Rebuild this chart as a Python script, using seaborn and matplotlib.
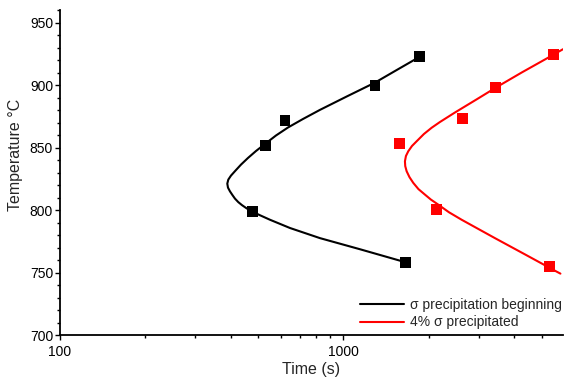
import numpy as np
import pandas as pd
import matplotlib
matplotlib.use("Agg")
import matplotlib.pyplot as plt
from matplotlib.ticker import FixedLocator, NullFormatter
import seaborn as sns

# ---- data ----
black_pts_time = [1861, 1292, 622, 529, 477, 1658]
black_pts_temp = [922.7, 899.7, 871.6, 851.6, 798.6, 758.0]
red_pts_time = [5495, 3431, 2624, 1573, 2137, 5350]
red_pts_temp = [924.6, 898.3, 873.5, 853.2, 800.2, 754.8]

# fitted C-curves
black_curve_time = [1861.5, 1544.2, 1291.5, 1028.8, 826.2, 719.7, 637.2, 578.0, 528.6,
                    491.4, 460.3, 435.0, 415.9, 401.0, 392.4, 389.2, 391.4, 397.8,
                    406.0, 414.3, 425.6, 438.5, 454.9, 474.5, 507.6, 550.5, 647.6,
                    826.2, 1143.8, 1661.2]
black_curve_temp = [922.7, 912.1, 901.9, 890.9, 880.1, 872.8, 866.0, 859.6, 852.8,
                    847.2, 841.6, 836.3, 831.5, 827.5, 824.3, 821.1, 817.9, 814.9,
                    811.9, 809.1, 806.3, 803.9, 801.4, 799.0, 795.8, 792.2, 785.6,
                    777.5, 768.6, 758.1]
red_curve_time = [5946, 5277.7, 4262, 3470.5, 2950, 2473.5, 2190, 2047, 1922.5, 1812.5,
                  1744.6, 1693, 1661.2, 1647.8, 1651.8, 1670.7, 1709.5, 1763.1, 1839.1,
                  1938.8, 2035.5, 2160, 2356, 2612, 2981.6, 3423, 4368, 5649.7, 5827]
red_curve_temp = [928.6, 921.9, 910.1, 898.3, 888.5, 878.0, 870.4, 865.8, 860.8, 855.0,
                  851.2, 847.0, 843.2, 839.0, 835.1, 831.0, 826.3, 821.7, 816.7,
                  812.3, 808.3, 804.3, 798.2, 792.2, 785.0, 777.5, 764.5, 750.7, 749.1]

label_black = "\u03c3 precipitation beginning"
label_red = "4% \u03c3 precipitated"

x_major = [100, 1000]
x_major_labels = ["100", "1000"]
x_minor = [200, 300, 400, 500, 600, 700, 800, 900, 2000, 3000, 4000, 5000]
y_major = [700, 750, 800, 850, 900, 950]

curves = pd.DataFrame({
    "time": black_curve_time + red_curve_time,
    "temp": black_curve_temp + red_curve_temp,
    "series": [label_black] * len(black_curve_time) + [label_red] * len(red_curve_time),
})
points = pd.DataFrame({
    "time": black_pts_time + red_pts_time,
    "temp": black_pts_temp + red_pts_temp,
    "series": [label_black] * len(black_pts_time) + [label_red] * len(red_pts_time),
})
palette = {label_black: "#000000", label_red: "#ff0000"}

sns.set_style("ticks")
plt.rcParams["font.family"] = ["Liberation Sans", "DejaVu Sans"]

fig = plt.figure(figsize=(5.64, 3.80), dpi=100)
ax = fig.add_axes([60 / 564, 45 / 380, 503 / 564, 325 / 380])
ax.set_xscale("log")

sns.lineplot(data=curves, x="time", y="temp", hue="series", palette=palette,
             sort=False, estimator=None, linewidth=1.5, ax=ax, legend=True)
for line in ax.get_lines():
    line.set_solid_joinstyle("round")
    line.set_solid_capstyle("round")
sns.scatterplot(data=points, x="time", y="temp", hue="series", palette=palette,
                marker="s", s=62, linewidth=0, ax=ax, legend=False, zorder=3)

ax.set_xlim(100, 5950)
ax.set_ylim(700, 960)

ax.xaxis.set_major_locator(FixedLocator(x_major))
ax.set_xticklabels(x_major_labels)
ax.xaxis.set_minor_locator(FixedLocator(x_minor))
ax.xaxis.set_minor_formatter(NullFormatter())
ax.set_yticks(y_major)
ax.yaxis.set_minor_locator(FixedLocator(np.arange(700, 961, 10)))

ax.tick_params(axis="both", which="major", length=3.5, width=1.0, color="black",
               labelsize=10, labelcolor="black")
ax.tick_params(axis="y", which="major", pad=1.5)
ax.tick_params(axis="x", which="major", pad=4)
ax.tick_params(axis="both", which="minor", length=2.3, width=1.0, color="black")

for side in ["left", "bottom"]:
    ax.spines[side].set_linewidth(1.3)
    ax.spines[side].set_color("black")
sns.despine(ax=ax)

ax.set_xlabel("Time (s)", fontsize=11.5)
ax.set_ylabel("Temperature \u00b0C", fontsize=11.5)
ax.xaxis.set_label_coords(0.5, -0.083)
ax.yaxis.set_label_coords(-0.073, 0.554)

leg = ax.legend(loc="lower right", bbox_to_anchor=(1.008, 0.0), frameon=False,
                fontsize=10, handlelength=3.2, handletextpad=0.4, labelspacing=0.25,
                borderaxespad=0.0, title=None)
for line in leg.get_lines():
    line.set_linewidth(1.5)

fig.savefig("out.png", dpi=100)
